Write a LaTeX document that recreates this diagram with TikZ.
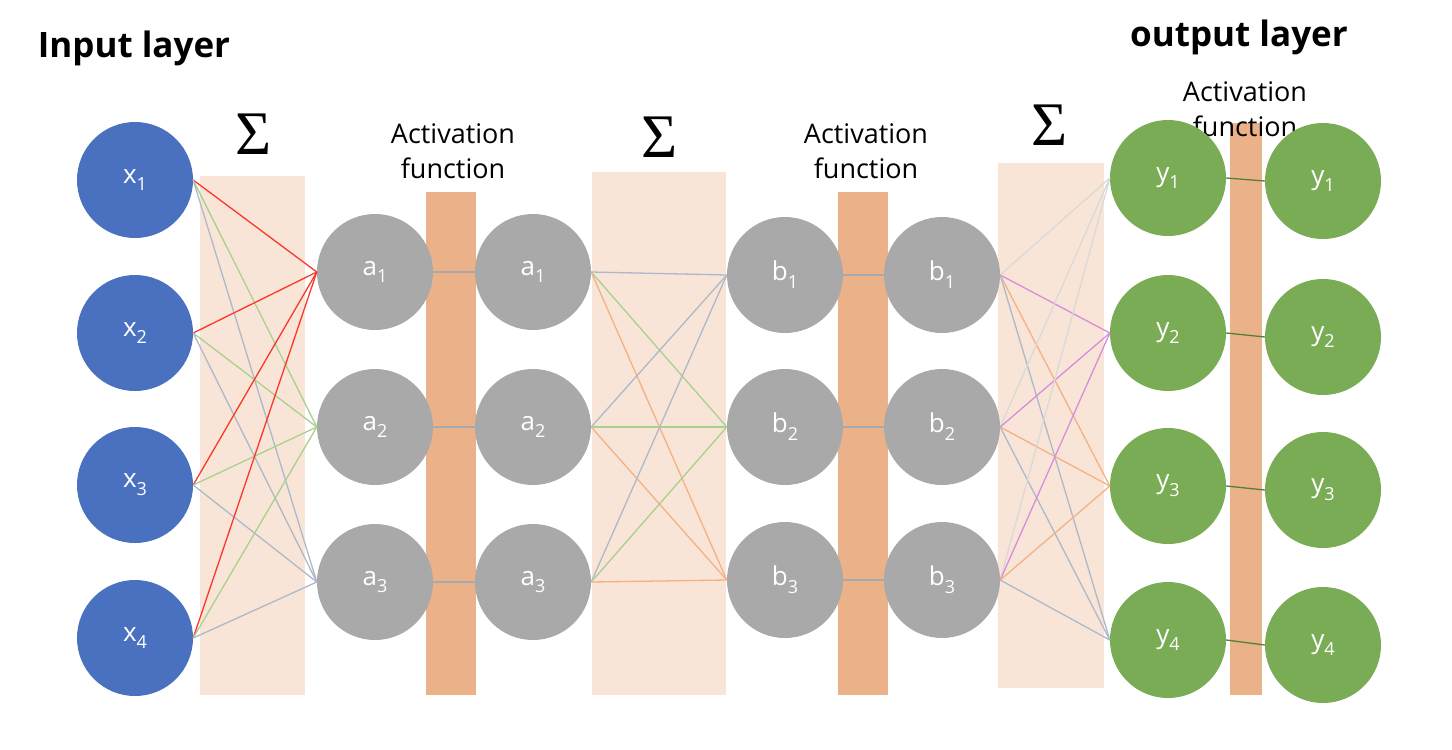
\documentclass[tikz,border=0pt]{standalone}
\usepackage{fontspec}
\setmainfont{Open Sans}
\newfontfamily\sigmafont{Liberation Serif}
\newcommand{\lowidx}[1]{\raisebox{-0.3em}{\fontsize{18}{18}\selectfont #1}}
\begin{document}
\begin{tikzpicture}[x=1pt,y=-1pt,
  neuron/.style={circle,minimum size=116pt,inner sep=0pt,text=white,
    font=\fontsize{26}{28}\selectfont},
  title/.style={font=\fontsize{35}{38}\selectfont\bfseries},
  sigma/.style={font=\fontsize{62}{62}\selectfont\sigmafont},
  actlabel/.style={align=center,font=\fontsize{27}{35}\selectfont},
  wire/.style={line width=1.3pt}]
  \definecolor{sumfill}{RGB}{248,229,215}
  \definecolor{actfill}{RGB}{235,177,137}
  \definecolor{inblue}{RGB}{74,113,192}
  \definecolor{hidgray}{RGB}{169,169,169}
  \definecolor{outgreen}{RGB}{122,171,85}
  \definecolor{wirered}{RGB}{250,55,40}
  \definecolor{wiregreen}{RGB}{169,209,142}
  \definecolor{wireblue}{RGB}{173,185,202}
  \definecolor{wireorange}{RGB}{244,177,131}
  \definecolor{wirepink}{RGB}{217,140,220}
  \definecolor{wirelight}{RGB}{217,217,217}
  \definecolor{linkgray}{RGB}{165,170,178}
  \definecolor{linkgreen}{RGB}{84,130,53}
  \useasboundingbox (0,0) rectangle (1452,750);
  % summation and activation bands
  \fill[sumfill] (200,176) rectangle (305,695);
  \fill[sumfill] (592,172) rectangle (726,695);
  \fill[sumfill] (998,163) rectangle (1104,688);
  \fill[actfill] (426,192) rectangle (476,695);
  \fill[actfill] (838,192) rectangle (888,695);
  \fill[actfill] (1230,123) rectangle (1262,695);
  % labels
  \node[title] (intitle) at (134,48) {Input layer};
  \node[title] (outtitle) at (1239,37) {output layer};
  \node[sigma] (sig1) at (254,134) {Σ};
  \node[sigma] (sig2) at (660,137) {Σ};
  \node[sigma] (sig3) at (1050,125) {Σ};
  \node[actlabel] (act1) at (453,151) {Activation\\function};
  \node[actlabel] (act2) at (866,151) {Activation\\function};
  \node[actlabel] (act3) at (1245,109) {Activation\\function};
  % neurons
  \foreach \i/\y in {1/180,2/333,3/485,4/638}
    \node[neuron,fill=inblue] (x\i) at (135,\y) {x\lowidx{\i}};
  \foreach \i/\y in {1/272,2/427,3/582} {
    \node[neuron,fill=hidgray] (a\i) at (375,\y) {a\lowidx{\i}};
    \node[neuron,fill=hidgray] (aa\i) at (533,\y) {a\lowidx{\i}};
  }
  \foreach \i/\y in {1/275,2/427,3/580} {
    \node[neuron,fill=hidgray] (b\i) at (785,\y) {b\lowidx{\i}};
    \node[neuron,fill=hidgray] (bb\i) at (942,\y) {b\lowidx{\i}};
  }
  \foreach \i/\y/\yy in {1/178/181,2/333/337,3/486/490,4/640/645} {
    \node[neuron,fill=outgreen] (y\i) at (1168,\y) {y\lowidx{\i}};
    \node[neuron,fill=outgreen] (yy\i) at (1323,\yy) {y\lowidx{\i}};
  }
  % weighted connections
  \foreach \i in {1,...,4}
    \foreach \j/\c in {1/wirered,2/wiregreen,3/wireblue}
      \draw[wire,\c] (x\i.east) -- (a\j.west);
  \foreach \i in {1,...,3}
    \foreach \j/\c in {1/wireblue,2/wiregreen,3/wireorange}
      \draw[wire,\c] (aa\i.east) -- (b\j.west);
  \foreach \i in {1,...,3}
    \foreach \j/\c in {1/wirelight,2/wirepink,3/wireorange,4/wireblue}
      \draw[wire,\c] (bb\i.east) -- (y\j.west);
  % activation links
  \foreach \i in {1,...,3} {
    \draw[wire,linkgray] (a\i.east) -- (aa\i.west);
    \draw[wire,linkgray] (b\i.east) -- (bb\i.west);
  }
  \foreach \i in {1,...,4}
    \draw[wire,linkgreen] (y\i.east) -- (yy\i.west);
\end{tikzpicture}
\end{document}
